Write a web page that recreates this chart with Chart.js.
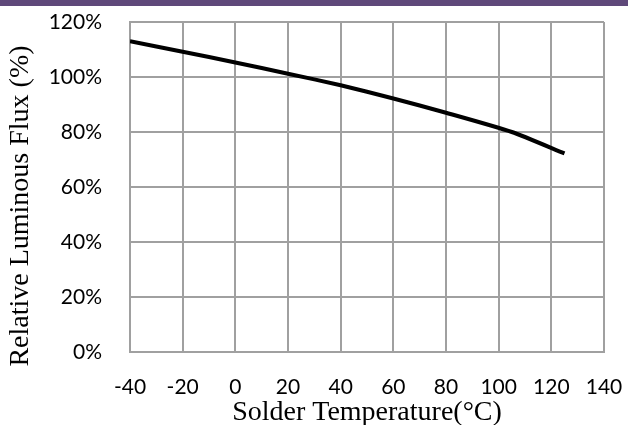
<!DOCTYPE html>
<html>
<head>
<meta charset="utf-8">
<script src="https://cdn.jsdelivr.net/npm/chart.js@4/dist/chart.umd.min.js"></script>
<style>
    html, body { margin: 0; padding: 0; background: #fff; }
    #wrap { position: relative; width: 628px; height: 425px; overflow: hidden; }
    #faixa { position: absolute; left: 0; top: 0; width: 628px; height: 6px; background: #5f497a; }
</style>
</head>
<body>
<div id="wrap">
    <canvas id="grafico" width="628" height="425"></canvas>
    <div id="faixa"></div>
</div>
<script>
// curva de fluxo relativo x temperatura de solda
const temperaturas = [-40, -20, 0, 20, 40, 60, 80, 105, 125];
const fluxoRelativo = [113, 109.2, 105.3, 101.2, 97, 92.2, 87, 80, 72.2];

const ticksTemperatura = [-40, -20, 0, 20, 40, 60, 80, 100, 120, 140];
const ticksPorcentagem = [0, 20, 40, 60, 80, 100, 120];

const corGrade = "#a0a0a0";
const fonteTicks = { family: "Lato", size: 21 };

// titulo do eixo y desenhado a mao pra poder ajustar a posicao
const tituloEixoY = {
    id: "tituloEixoY",
    afterDraw(chart) {
        const ctx = chart.ctx;
        const area = chart.chartArea;

        ctx.save();
        ctx.translate(21, (area.top + area.bottom) / 2 + 19);
        ctx.rotate(-Math.PI / 2);
        ctx.font = '28px "Liberation Serif"';
        ctx.fillStyle = "#000000";
        ctx.textAlign = "center";
        ctx.textBaseline = "middle";
        ctx.fillText("Relative Luminous Flux (%)", 0, 0);
        ctx.restore();
    }
};

const ctx = document.getElementById("grafico");

new Chart(ctx, {
    type: "line",
    data: {
        datasets: [{
            label: "Fluxo relativo",
            data: temperaturas.map((t, i) => ({ x: t, y: fluxoRelativo[i] })),
            borderColor: "#000000",
            borderWidth: 4,
            pointRadius: 0,
            tension: 0.2,
            fill: false
        }]
    },
    options: {
        responsive: false,
        animation: false,
        devicePixelRatio: 1,
        layout: {
            padding: { top: 22, right: 24, bottom: 0, left: 0 }
        },
        scales: {
            x: {
                type: "linear",
                min: -40,
                max: 140,
                afterBuildTicks: (s) => { s.ticks = ticksTemperatura.map(v => ({ value: v })); },
                afterFit: (s) => {
                    s.height = 73;
                    s.paddingLeft = 0;
                    s.paddingRight = 0;
                },
                grid: { color: corGrade, lineWidth: 2, drawTicks: false },
                border: { color: corGrade, width: 2 },
                ticks: { color: "#000000", font: fonteTicks, padding: 23, maxRotation: 0 },
                title: {
                    display: true,
                    text: "Solder Temperature(°C)",
                    color: "#000000",
                    font: { family: "Liberation Serif", size: 28 },
                    padding: { top: 0, bottom: -4 }
                }
            },
            y: {
                min: 0,
                max: 120,
                afterBuildTicks: (s) => { s.ticks = ticksPorcentagem.map(v => ({ value: v })); },
                afterFit: (s) => {
                    // o padding dos ticks nao deve empurrar a area do grafico
                    s.width = 130;
                    s.paddingTop = 0;
                    s.paddingBottom = 0;
                },
                grid: { color: corGrade, lineWidth: 2, drawTicks: false },
                border: { color: corGrade, width: 2 },
                ticks: {
                    color: "#000000",
                    font: fonteTicks,
                    padding: 28,
                    callback: (v) => v + "%"
                }
            }
        },
        plugins: {
            legend: { display: false },
            tooltip: { enabled: false }
        }
    },
    plugins: [tituloEixoY]
});
</script>
</body>
</html>
